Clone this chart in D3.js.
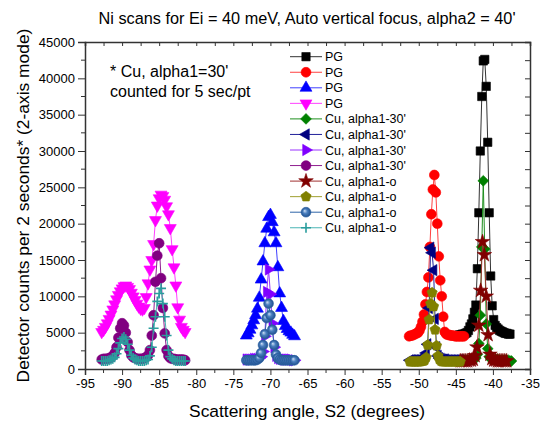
<!DOCTYPE html>
<html>
<head>
<meta charset="utf-8">
<script src="https://cdn.jsdelivr.net/npm/d3@7"></script>
<style>
  body { margin: 0; background: #fff; }
  svg { display: block; font-family: "Liberation Sans", Arial, sans-serif; }
  .tick text { font-size: 13px; fill: #000; }
</style>
</head>
<body>
<svg id="chart" width="547" height="424"></svg>
<script>
// ---- data ----
// left group (-92.75 .. -81.5, 0.25 deg steps)
const leftAngles = [-92.75,-92.5,-92.25,-92,-91.75,-91.5,-91.25,-91,-90.75,-90.5,-90.25,-90,-89.75,-89.5,-89.25,-89,-88.75,-88.5,-88.25,-88,-87.75,-87.5,-87.25,-87,-86.75,-86.5,-86.25,-86,-85.75,-85.5,-85.25,-85,-84.75,-84.5,-84.25,-84,-83.75,-83.5,-83.25,-83,-82.75,-82.5,-82.25,-82,-81.75,-81.5];
const pgMagenta = [5100,5400,5800,6300,6900,7500,8200,8900,9600,10200,10700,11100,11400,11500,11300,11000,10500,10000,9500,9000,8600,8300,8200,8400,9900,11800,13700,15000,17200,20500,22500,23500,24000,23800,23300,22400,21300,19400,16500,14000,11500,8500,6800,5800,5400,5100];
const cu30Purple = [1300,1400,1400,1400,1500,1600,1800,2200,3000,4300,5600,6300,6000,5000,3700,2600,1900,1600,1500,1400,1400,1400,1400,1500,1600,1900,2600,4600,7400,12000,15600,17300,12500,8400,4900,2600,1800,1500,1400,1400,1300,1300,1300,1300,1300,1200];
const cuOTeal = [1100,1100,1100,1100,1200,1300,1400,1600,2100,2800,3600,4200,4400,4100,3400,2600,1900,1500,1300,1200,1100,1100,1100,1100,1200,1300,1800,3000,5600,7200,9300,10400,11100,9000,7200,4600,2600,1700,1400,1200,1100,1100,1100,1100,1100,1100];

// middle group (-73.25 .. -66.75)
const midAngles = [-73.25,-73,-72.75,-72.5,-72.25,-72,-71.75,-71.5,-71.25,-71,-70.75,-70.5,-70.25,-70,-69.75,-69.5,-69.25,-69,-68.75,-68.5,-68.25,-68,-67.75,-67.5,-67.25,-67,-66.75];
const pgBlue = [4600,4900,5400,6000,6700,7400,8300,9800,12300,14800,17300,19300,20900,21200,20200,18800,17300,14000,10400,8400,6600,5900,5500,5200,5000,4700,4500];
const cu30Violet = [1300,1300,1300,1300,1400,1400,1400,1500,1700,2400,4500,10600,13700,10300,6300,3000,1800,1500,1400,1400,1300,1300,1300,1300,1300,1200,1200];
const cuOSteel = [1200,1200,1200,1200,1200,1200,1300,1500,2200,3300,4800,7000,9000,7400,5400,3300,2000,1500,1300,1200,1200,1200,1200,1200,1200,1200,1200];

// right group, near -48
const redAngles = [-51.3,-51.1,-50.9,-50.7,-50.5,-50.3,-50.1,-49.9,-49.7,-49.5,-49.3,-49.1,-48.9,-48.7,-48.5,-48.3,-48.1,-47.9,-47.7,-47.5,-47.3,-47.1,-46.9,-46.7,-46.5,-46.3,-46.1,-45.9,-45.7,-45.5,-45.3,-45.1,-44.9,-44.7,-44.5,-44.3,-44.1,-43.9];
const pgRed = [4500,4600,4600,4700,4800,4900,5000,5300,5800,6500,7500,8900,10600,12600,16800,21300,24700,26700,24300,20000,15500,12200,10000,7200,5100,4800,4700,4700,4600,4600,4600,4500,4500,4500,4500,4500,4500,4500];
const cuAngles48 = [-51.2,-51,-50.8,-50.6,-50.4,-50.2,-50,-49.8,-49.6,-49.4,-49.2,-49,-48.8,-48.6,-48.4,-48.2,-48,-47.8,-47.6,-47.4,-47.2,-47,-46.8,-46.6,-46.4,-46.2,-46,-45.8,-45.6,-45.4,-45.2,-45,-44.8,-44.6,-44.4];
const cu30Navy = [1200,1200,1200,1200,1200,1200,1300,1300,1400,1500,1700,2200,3400,8400,16700,16000,13600,6900,3000,1800,1500,1400,1300,1300,1300,1200,1200,1200,1200,1200,1200,1200,1200,1200,1200];
const cuOOlive = [1000,1000,1000,1000,1000,1000,1000,1000,1100,1100,1200,1600,3300,6800,9000,10500,8600,5400,3200,1800,1300,1100,1000,1000,1000,1000,1000,1000,1000,1000,1000,1000,1000,1000,1000];

// right group, near -41
const blackAngles = [-44.5,-44.3,-44.1,-43.9,-43.7,-43.5,-43.3,-43.1,-42.9,-42.7,-42.5,-42.3,-42.1,-41.9,-41.7,-41.5,-41.3,-41.1,-40.9,-40.7,-40.5,-40.3,-40.1,-39.9,-39.7,-39.5,-39.3,-39.1,-38.9,-38.7,-38.5,-38.3,-38.1,-37.9,-37.7];
const pgBlack = [4700,4700,4800,4800,4900,5000,5300,5800,6200,6900,7800,8800,13800,21500,30000,37500,42400,42600,38900,31200,21500,12800,8700,6800,6000,5700,5500,5300,5200,5100,5000,4900,4900,4800,4800];
const greenAngles = [-44.3,-44.1,-43.9,-43.7,-43.5,-43.3,-43.1,-42.9,-42.7,-42.5,-42.3,-42.1,-41.9,-41.7,-41.5,-41.3,-41.1,-40.9,-40.7,-40.5,-40.3,-40.1,-39.9,-39.7,-39.5,-39.3,-39.1,-38.9,-38.7,-38.5,-38.3,-38.1,-37.9,-37.7,-37.5];
const cu30Green = [1200,1200,1200,1200,1200,1200,1300,1300,1300,1400,1500,2000,3500,7400,16800,25900,16500,6200,2800,1700,1400,1300,1300,1300,1300,1300,1200,1200,1200,1200,1200,1200,1200,1100,1100];
const starAngles = [-44.4,-44.15,-43.9,-43.65,-43.4,-43.15,-42.9,-42.65,-42.4,-42.15,-41.9,-41.65,-41.4,-41.15,-40.9,-40.65,-40.4,-40.15,-39.9,-39.65,-39.4,-39.15,-38.9,-38.65,-38.4,-38.15];
const cuOWine = [1100,1100,1100,1100,1100,1200,1200,1300,1800,3000,6000,10800,17500,15700,10000,4700,2000,1400,1200,1200,1100,1100,1100,1100,1100,1100];

const xTicks = [-95,-90,-85,-80,-75,-70,-65,-60,-55,-50,-45,-40,-35];
const yTicks = [0,5000,10000,15000,20000,25000,30000,35000,40000,45000];

const series = [
  { name: 'PG', xs: blackAngles, ys: pgBlack, color: '#000000', line: '#333333', shape: 'square' },
  { name: 'PG', xs: redAngles, ys: pgRed, color: '#ff0000', line: '#ff4040', shape: 'circle' },
  { name: 'PG', xs: midAngles, ys: pgBlue, color: '#0000ff', line: '#4040ff', shape: 'triUp' },
  { name: 'PG', xs: leftAngles, ys: pgMagenta, color: '#ff00ff', line: '#ff40ff', shape: 'triDown' },
  { name: "Cu, alpha1-30'", xs: greenAngles, ys: cu30Green, color: '#008000', line: '#1f8f1f', shape: 'diamond' },
  { name: "Cu, alpha1-30'", xs: cuAngles48, ys: cu30Navy, color: '#000080', line: '#20209a', shape: 'triLeft' },
  { name: "Cu, alpha1-30'", xs: midAngles, ys: cu30Violet, color: '#8000ff', line: '#9a33ff', shape: 'triRight' },
  { name: "Cu, alpha1-30'", xs: leftAngles, ys: cu30Purple, color: '#800080', line: '#8f1f8f', shape: 'circle' },
  { name: 'Cu, alpha1-o', xs: starAngles, ys: cuOWine, color: '#800000', line: '#a03030', shape: 'star' },
  { name: 'Cu, alpha1-o', xs: cuAngles48, ys: cuOOlive, color: '#808000', line: '#a0a030', shape: 'pentagon' },
  { name: 'Cu, alpha1-o', xs: midAngles, ys: cuOSteel, color: 'url(#ball)', line: '#2e64a8', shape: 'ball' },
  { name: 'Cu, alpha1-o', xs: leftAngles, ys: cuOTeal, color: '#2a9d9d', line: '#4ab5b5', shape: 'plus' }
];

// ---- layout ----
const svg = d3.select('#chart');
const plotLeft = 85, plotRight = 530, plotTop = 42, plotBottom = 369;

const xScale = d3.scaleLinear().domain([-95, -35]).range([plotLeft, plotRight]);
const yScale = d3.scaleLinear().domain([0, 45000]).range([plotBottom, plotTop]);

const defs = svg.append('defs');
const grad = defs.append('radialGradient').attr('id', 'ball')
  .attr('cx', '50%').attr('cy', '50%').attr('r', '50%')
  .attr('fx', '35%').attr('fy', '35%');
grad.append('stop').attr('offset', '0%').attr('stop-color', '#cfe0f5');
grad.append('stop').attr('offset', '45%').attr('stop-color', '#4a7fbf');
grad.append('stop').attr('offset', '100%').attr('stop-color', '#1f4f8c');

defs.append('clipPath').attr('id', 'plotclip')
  .append('rect').attr('x', plotLeft).attr('y', plotTop)
  .attr('width', plotRight - plotLeft).attr('height', plotBottom - plotTop);

function pentagon(r) {
  const pts = d3.range(5).map(i => {
    const a = -Math.PI / 2 + i * 2 * Math.PI / 5;
    return [r * Math.cos(a), r * Math.sin(a)];
  });
  return 'M' + pts.map(p => p.join(',')).join('L') + 'Z';
}

function drawMarker(sel, s) {
  const sh = s.shape;
  let path, rot = 0, fill = s.color, stroke = s.color, sw = 0.6;
  if (sh === 'square') path = d3.symbol(d3.symbolSquare, 70)();
  else if (sh === 'circle' || sh === 'ball') path = d3.symbol(d3.symbolCircle, 76)();
  else if (sh === 'triUp') path = d3.symbol(d3.symbolTriangle, 62)();
  else if (sh === 'triDown') { path = d3.symbol(d3.symbolTriangle, 62)(); rot = 180; }
  else if (sh === 'triLeft') { path = d3.symbol(d3.symbolTriangle, 56)(); rot = -90; }
  else if (sh === 'triRight') { path = d3.symbol(d3.symbolTriangle, 56)(); rot = 90; }
  else if (sh === 'diamond') { path = d3.symbol(d3.symbolSquare, 58)(); rot = 45; }
  else if (sh === 'star') path = d3.symbol(d3.symbolStar, 66)();
  else if (sh === 'pentagon') path = pentagon(5.4);
  else if (sh === 'plus') { path = 'M-5,0H5M0,-5V5'; fill = 'none'; sw = 1.6; }
  if (sh === 'ball') stroke = '#2e64a8';
  sel.append('path')
    .attr('d', path)
    .attr('transform', d => `translate(${d[0]},${d[1]}) rotate(${rot})`)
    .attr('fill', fill)
    .attr('stroke', stroke)
    .attr('stroke-width', sw);
}

// ---- series ----
const plot = svg.append('g').attr('clip-path', 'url(#plotclip)');
const lineGen = d3.line().x(d => xScale(d[0])).y(d => yScale(d[1]));

series.forEach(s => {
  const pts = s.xs.map((x, i) => [x, s.ys[i]]);
  const g = plot.append('g');
  g.append('path')
    .attr('d', lineGen(pts))
    .attr('fill', 'none')
    .attr('stroke', s.line)
    .attr('stroke-width', 1);
  const m = g.selectAll('g.pt')
    .data(pts.map(p => [xScale(p[0]), yScale(p[1])]))
    .join('g').attr('class', 'pt');
  drawMarker(m, s);
});

// ---- axes ----
const xMinor = d3.range(-95, -34.9, 2.5);
const yMinor = d3.range(0, 45001, 2500);

const xAxisG = svg.append('g').attr('transform', `translate(0,${plotBottom})`)
  .call(d3.axisBottom(xScale).tickValues(xTicks).tickSize(6).tickPadding(4).tickFormat(d => d));
xAxisG.append('g').selectAll('line').data(xMinor.filter(v => v % 5 !== 0))
  .join('line').attr('x1', d => xScale(d)).attr('x2', d => xScale(d))
  .attr('y1', 0).attr('y2', 4).attr('stroke', '#333');

const yAxisG = svg.append('g').attr('transform', `translate(${plotLeft},0)`)
  .call(d3.axisLeft(yScale).tickValues(yTicks).tickSize(7).tickPadding(3).tickFormat(d => d));
yAxisG.append('g').selectAll('line').data(yMinor.filter(v => v % 5000 !== 0))
  .join('line').attr('y1', d => yScale(d)).attr('y2', d => yScale(d))
  .attr('x1', 0).attr('x2', -4).attr('stroke', '#333');

// top & right: inward ticks, no labels
const topG = svg.append('g').attr('transform', `translate(0,${plotTop})`)
  .call(d3.axisTop(xScale).tickValues(xMinor).tickSize(-4).tickFormat(''));
const rightG = svg.append('g').attr('transform', `translate(${plotRight},0)`)
  .call(d3.axisRight(yScale).tickValues(yMinor).tickSize(-5).tickFormat(''));

[xAxisG, yAxisG, topG, rightG].forEach(g => {
  g.selectAll('.domain').attr('stroke', '#333').attr('stroke-width', 1.5);
  g.selectAll('.tick line').attr('stroke', '#333').attr('stroke-width', 1);
});

// ---- texts ----
svg.append('text')
  .attr('x', 307).attr('y', 24)
  .attr('text-anchor', 'middle')
  .style('font-size', '16.3px')
  .text("Ni scans for Ei = 40 meV, Auto vertical focus, alpha2 = 40'");

svg.append('text')
  .attr('x', 307).attr('y', 417)
  .attr('text-anchor', 'middle')
  .style('font-size', '17.4px')
  .text('Scattering angle, S2 (degrees)');

svg.append('text')
  .attr('transform', `translate(29,${(plotTop + plotBottom) / 2}) rotate(-90)`)
  .attr('text-anchor', 'middle')
  .style('font-size', '17.4px')
  .text('Detector counts per 2 seconds* (2-axis mode)');

svg.append('text').attr('x', 110).attr('y', 77).style('font-size', '16px').text("* Cu, alpha1=30'");
svg.append('text').attr('x', 110).attr('y', 97).style('font-size', '16px').text('counted for 5 sec/pt');

// ---- legend ----
const legend = svg.append('g');
series.forEach((s, i) => {
  const y = 56.7 + i * 15.55;
  legend.append('line').attr('x1', 290).attr('x2', 322).attr('y1', y).attr('y2', y)
    .attr('stroke', s.line).attr('stroke-width', 1);
  const m = legend.append('g').datum([306, y]);
  drawMarker(m, s);
  legend.append('text').attr('x', 325).attr('y', y + 4.5)
    .style('font-size', '12.5px').text(s.name);
});
</script>
</body>
</html>
